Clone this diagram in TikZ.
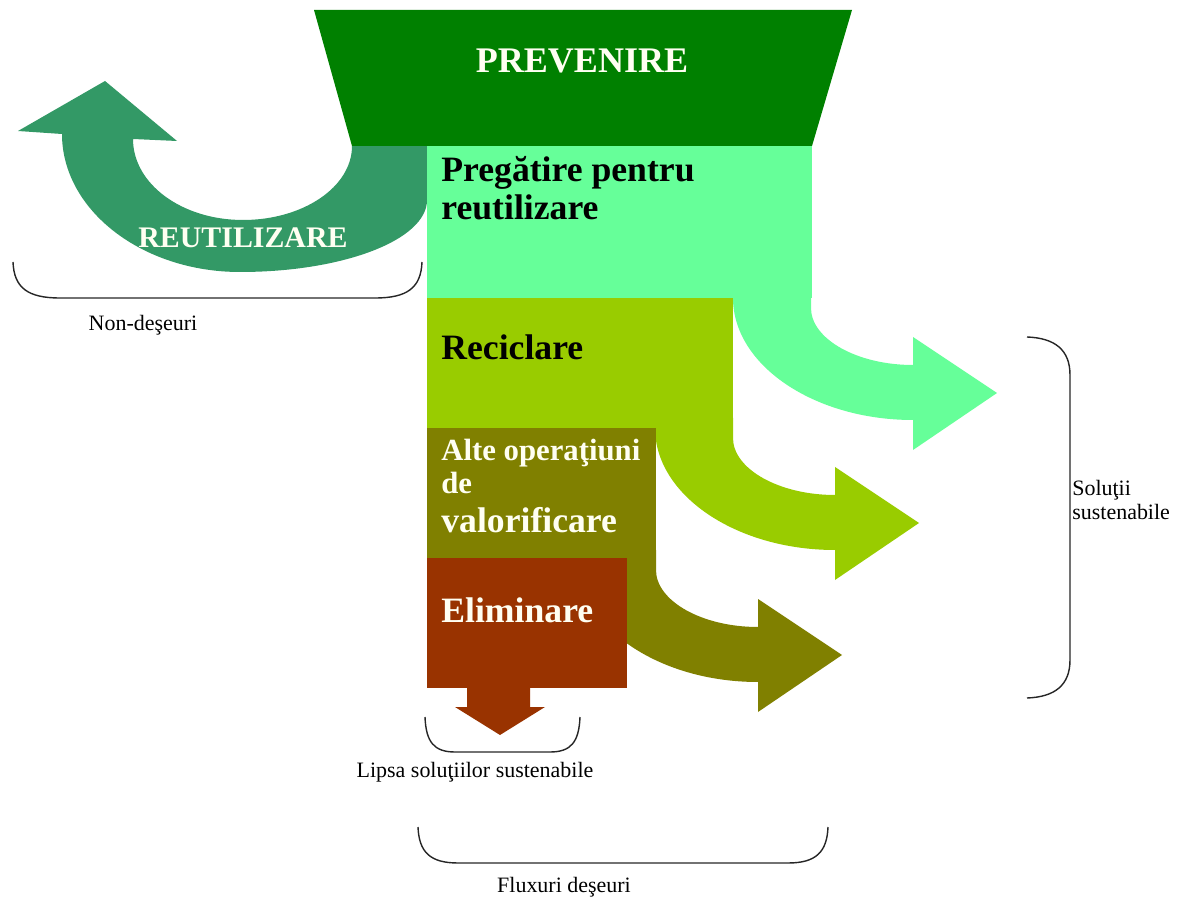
\documentclass[tikz,border=0pt]{standalone}
\usepackage{fontspec}
\setmainfont{Liberation Serif}
\usetikzlibrary{positioning}

\definecolor{prevgreen}{HTML}{008000}
\definecolor{reusegreen}{HTML}{339966}
\definecolor{prepgreen}{HTML}{66FF99}
\definecolor{recgreen}{HTML}{99CC00}
\definecolor{valolive}{HTML}{808000}
\definecolor{elimbrown}{HTML}{993300}
\definecolor{cream}{HTML}{FFFFF2}

\tikzset{
  blocktext/.style={anchor=base west, inner sep=0pt, font=\bfseries\fontsize{20.3}{24}\selectfont},
  bracelabel/.style={inner sep=0pt, font=\fontsize{12.5}{13.6}\selectfont},
  brace/.style={draw=black!85, line width=0.8pt},
}

\begin{document}
\begin{tikzpicture}[x=0.02cm, y=-0.02cm]
\useasboundingbox (0,0) rectangle (1177,898);

% reutilizare
\fill[reusegreen] (352,146) -- (427,146) -- (427,200)
  .. controls (427,240) and (343,272) .. (240,272)
  .. controls (142,272) and (62,210) .. (62,134)
  -- (18,131) -- (105,81) -- (177,141) -- (133,139)
  .. controls (133,184) and (182,220) .. (243,220)
  .. controls (303,220) and (352,187) .. (352,146) -- cycle;

% flows
\fill[prepgreen, shift={(733,298)}] (0,-10) -- (78,-10) -- (78,10)
  .. controls (78,41) and (124,67) .. (180,67) -- (180,39) -- (264,95)
  -- (180,152) -- (180,122) .. controls (81,122) and (0,67) .. (0,0) -- cycle;
\fill[recgreen, shift={(655,428)}] (0,-10) -- (78,-10) -- (78,10)
  .. controls (78,41) and (124,67) .. (180,67) -- (180,39) -- (264,95)
  -- (180,152) -- (180,122) .. controls (81,122) and (0,67) .. (0,0) -- cycle;
\fill[valolive, shift={(578,560)}] (0,-10) -- (78,-10) -- (78,10)
  .. controls (78,41) and (124,67) .. (180,67) -- (180,39) -- (264,95)
  -- (180,152) -- (180,122) .. controls (81,122) and (0,67) .. (0,0) -- cycle;
\fill[elimbrown] (467,680) -- (530,680) -- (530,707) -- (545,707)
  -- (500,735) -- (455,707) -- (467,707) -- cycle;

% blocks
\fill[prepgreen] (427,146) rectangle (812,298);
\fill[recgreen] (427,298) rectangle (733,428);
\fill[valolive] (427,428) rectangle (656,558);
\fill[elimbrown] (427,558) rectangle (627,688);
\fill[prevgreen] (314,10) -- (852,10) -- (812,146) -- (352,146) -- cycle;

\node[anchor=base, inner sep=0pt, text=cream, font=\bfseries\fontsize{20.5}{24}\selectfont] (prevenire) at (582,73) {PREVENIRE};
\node[anchor=base, inner sep=0pt, text=cream, font=\bfseries\fontsize{17}{20}\selectfont] (reutilizare) at (243,248) {REUTILIZARE};
\node[blocktext] (pregatire) at (441,182) {Pregătire pentru};
\node[blocktext] (pregatirereu) at (441,220) {reutilizare};
\node[blocktext] (reciclare) at (441,360) {Reciclare};
\node[blocktext, text=cream, font=\bfseries\fontsize{17.5}{20}\selectfont] (alteop) at (441,460) {Alte operaţiuni};
\node[blocktext, text=cream, font=\bfseries\fontsize{17.5}{20}\selectfont] (altede) at (441,494) {de};
\node[blocktext, text=cream] (altevalo) at (441,533) {valorificare};
\node[blocktext, text=cream] (eliminare) at (441,622) {Eliminare};

% brackets
\draw[brace] (13,262) .. controls (14,288) and (28,298) .. (60,298) -- (375,298)
  .. controls (407,298) and (421,288) .. (422,262);
\draw[brace] (425,717) .. controls (426,742) and (434,752) .. (455,752) -- (550,752)
  .. controls (571,752) and (579,742) .. (580,717);
\draw[brace] (418,827) .. controls (419,852) and (430,863) .. (458,863) -- (788,863)
  .. controls (816,863) and (827,852) .. (828,827);
\draw[brace] (1027,337) .. controls (1055,338) and (1070,350) .. (1070,375) -- (1070,660)
  .. controls (1070,685) and (1055,697) .. (1027,698);

\node[bracelabel] (nondeseuri) at (143,325) {Non-deşeuri};
\node[bracelabel] (lipsa) at (475,772) {Lipsa soluţiilor sustenabile};
\node[bracelabel] (fluxuri) at (564,887) {Fluxuri deşeuri};
\node[bracelabel, anchor=west, align=left] (solutii) at (1072,500) {Soluţii\\sustenabile};
\end{tikzpicture}
\end{document}
